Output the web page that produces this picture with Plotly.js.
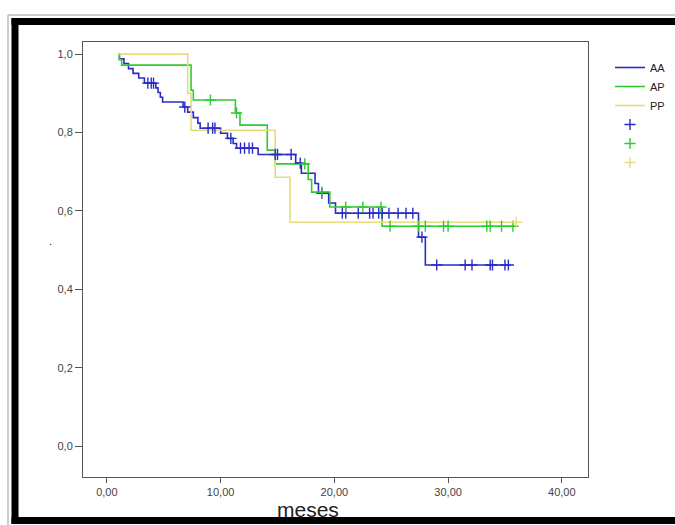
<!DOCTYPE html>
<html>
<head>
<meta charset="utf-8">
<script src="https://cdn.plot.ly/plotly-3.0.1.min.js"></script>
<style>
  html, body { margin: 0; padding: 0; background: #ffffff; overflow: hidden; }
  #chart { width: 675px; height: 525px; }
</style>
</head>
<body>
<div id="chart"></div>
<script>
// ---- Data ----
// Group labels
const groups = ["AA", "AP", "PP"];

// AA: step times (months) and survival after each step
const AA_t = [1.0, 1.1, 1.5, 1.9, 2.3, 2.8, 3.3, 4.3, 4.5, 4.7, 4.9, 6.7, 7.1, 7.6, 8.0, 8.2,
              10.0, 10.6, 11.1, 11.4, 13.3, 16.6, 17.1, 18.3, 18.6, 19.5, 20.1, 27.4, 28.0, 35.3];
const AA_s = [1.0, 0.988, 0.976, 0.963, 0.951, 0.939, 0.926, 0.914, 0.902, 0.890, 0.878, 0.865, 0.852, 0.838, 0.824, 0.811,
              0.798, 0.785, 0.772, 0.760, 0.744, 0.722, 0.696, 0.670, 0.645, 0.620, 0.594, 0.533, 0.462, 0.462];
// AA censored times
const AA_c = [3.6, 3.9, 4.1, 6.85, 8.9, 9.3, 9.5, 10.9, 11.75, 12.1, 12.5, 12.8, 14.8, 15.0, 16.2, 17.0, 18.9,
              20.7, 21.0, 22.1, 23.1, 23.4, 23.9, 24.2, 24.8, 25.6, 26.3, 26.9, 27.7,
              29.0, 31.5, 32.1, 33.7, 33.9, 35.0, 35.3];

// AP
const AP_t = [1.0, 1.1, 1.3, 7.4, 7.6, 11.3, 11.7, 14.1, 14.8, 17.7, 18.0, 19.6, 24.2, 36.0];
const AP_s = [1.0, 0.986, 0.972, 0.908, 0.883, 0.850, 0.819, 0.755, 0.720, 0.680, 0.648, 0.610, 0.561, 0.561];
const AP_c = [9.1, 11.4, 17.4, 18.9, 21.0, 22.5, 24.1, 24.9, 27.4, 28.0, 29.6, 30.0, 33.4, 33.7, 34.7, 35.7];

// PP
const PP_t = [1.0, 7.1, 7.4, 14.8, 16.1, 36.1];
const PP_s = [1.0, 0.900, 0.806, 0.686, 0.571, 0.571];
const PP_c = [36.0];

// Axis ticks
const xTicks = [0, 10, 20, 30, 40];
const yTicks = [0, 0.2, 0.4, 0.6, 0.8, 1.0];

// ---- Helpers ----
function survAt(ts, ss, t) {
  let v = ss[0];
  for (let i = 0; i < ts.length; i++) { if (ts[i] <= t) v = ss[i]; }
  return v;
}

const colors = { AA: "#2b2bc6", AP: "#2fcc2f", PP: "#e6dc7c" };

function curve(name, ts, ss) {
  return {
    type: "scatter", mode: "lines", name: name,
    x: ts, y: ss, line: { shape: "hv", color: colors[name], width: 1.6 },
    hoverinfo: "x+y"
  };
}
function censor(name, cs, ts, ss) {
  return {
    type: "scatter", mode: "markers", name: " ",
    x: cs, y: cs.map(t => survAt(ts, ss, t)),
    marker: { symbol: "cross-thin", size: 8, color: colors[name], line: { color: colors[name], width: 1.4 } },
    hoverinfo: "x+y"
  };
}

const traces = [
  curve("AA", AA_t, AA_s),
  curve("AP", AP_t, AP_s),
  curve("PP", PP_t, PP_s),
  censor("AA", AA_c, AA_t, AA_s),
  censor("AP", AP_c, AP_t, AP_s),
  censor("PP", PP_c, PP_t, PP_s)
];

// pixel -> paper helpers for frame decorations
const L = 83, R = 588, T = 42, B = 477;
const px = x => (x - L) / (R - L);
const py = y => (B - y) / (B - T);

function hline(x0, x1, y, color, w) {
  return { type: "line", xref: "paper", yref: "paper", x0: px(x0), x1: px(x1), y0: py(y), y1: py(y),
           line: { color: color, width: w }, layer: "below" };
}
function vline(x, y0, y1, color, w) {
  return { type: "line", xref: "paper", yref: "paper", x0: px(x), x1: px(x), y0: py(y0), y1: py(y1),
           line: { color: color, width: w }, layer: "below" };
}

const layout = {
  width: 675, height: 525,
  margin: { l: L, r: 675 - R, t: T, b: 525 - B, pad: 0, autoexpand: false },
  paper_bgcolor: "#ffffff", plot_bgcolor: "#ffffff",
  separators: ",.",
  font: { family: "Liberation Sans, Arial, sans-serif", size: 11, color: "#444" },
  showlegend: true,
  legend: {
    x: px(610), y: py(53), xanchor: "left", yanchor: "top",
    font: { family: "Liberation Sans, Arial, sans-serif", size: 11, color: "#222" },
    bgcolor: "rgba(0,0,0,0)", borderwidth: 0, itemwidth: 30, tracegroupgap: 0
  },
  xaxis: {
    range: [-2.1, 42.3], tickvals: xTicks, tickformat: ".2f",
    ticks: "outside", ticklen: 5, tickwidth: 1, tickcolor: "#555",
    showline: true, mirror: true, linecolor: "#555", linewidth: 1,
    showgrid: false, zeroline: false,
    tickfont: { size: 11, color: "#444" }
  },
  yaxis: {
    range: [-0.079, 1.031], tickvals: yTicks, tickformat: ".1f",
    ticks: "outside", ticklen: 7, tickwidth: 1, tickcolor: "#555",
    showline: true, mirror: true, linecolor: "#555", linewidth: 1,
    showgrid: false, zeroline: false,
    tickfont: { size: 11, color: "#444" }
  },
  annotations: [
    { text: "meses", xref: "paper", yref: "paper", x: px(308), y: py(510),
      xanchor: "center", yanchor: "middle", showarrow: false, borderpad: 0,
      font: { family: "Liberation Sans, Arial, sans-serif", size: 21, color: "#222" } },
    { text: ".", xref: "paper", yref: "paper", x: px(50), y: py(241),
      xanchor: "center", yanchor: "middle", showarrow: false,
      font: { family: "Liberation Sans, Arial, sans-serif", size: 11, color: "#222" } }
  ],
  shapes: [
    // thin outer frame line
    hline(8, 676, 15, "#999", 1),
    vline(8, 15, 525, "#999", 1),
    // thick black frame (left, top, bottom; open on the right)
    hline(11.5, 676, 21.5, "#000", 7),
    vline(15, 18, 524, "#000", 7),
    hline(11.5, 676, 520.5, "#000", 7),
    // keep the right margin strip blank between the top and bottom bands
    { type: "rect", xref: "paper", yref: "paper", x0: px(652), x1: px(676), y0: py(516), y1: py(26),
      line: { width: 0 }, fillcolor: "#ffffff", layer: "above" }
  ]
};

Plotly.newPlot("chart", traces, layout, { displayModeBar: false, staticPlot: true });
</script>
</body>
</html>
